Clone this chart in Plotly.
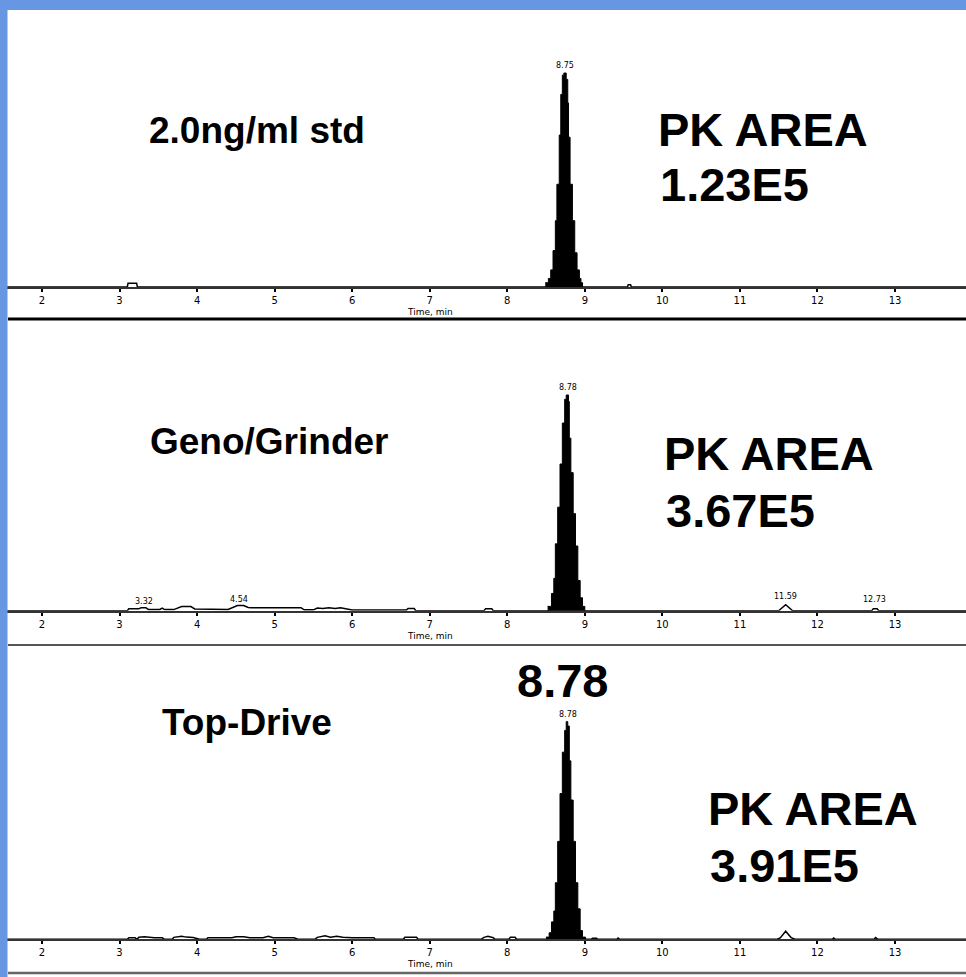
import plotly.graph_objects as go

W, H = 966, 977

# ---------------- data ----------------
tick_vals = [2, 3, 4, 5, 6, 7, 8, 9, 10, 11, 12, 13]
tick_text = [str(v) for v in tick_vals]

# Panel 1 : 2.0 ng/ml standard (relative intensity, %)
std_peak_t = [8.49, 8.53, 8.56, 8.59, 8.62, 8.64, 8.67, 8.69, 8.71, 8.73, 8.76, 8.78, 8.79, 8.81, 8.84, 8.87, 8.90, 8.93, 8.95, 8.97]
std_peak_y = [2, 4, 8, 17, 31, 48, 71, 90, 99, 100, 97, 86, 70, 48, 31, 16, 8, 4, 2, 0]
std_noise_t = [1.46, 3.10, 3.11, 3.22, 3.23, 9.55, 9.56, 9.59, 9.60, 13.92]
std_noise_y = [0, 0, 1.8, 1.8, 0, 0, 1.0, 1.0, 0, 0]

# Panel 2 : Geno/Grinder
geno_peak_t = [8.52, 8.57, 8.60, 8.62, 8.65, 8.68, 8.71, 8.74, 8.76, 8.79, 8.80, 8.82, 8.85, 8.88, 8.91, 8.94, 8.97, 9.00]
geno_peak_y = [2, 8, 15, 31, 48, 68, 87, 98, 100, 97, 80, 64, 45, 30, 14, 6, 2, 0]
geno_noise_t = [1.46, 3.10, 3.12, 3.25, 3.28, 3.34, 3.37, 3.52, 3.55, 3.58, 3.70, 3.76, 3.80, 3.92, 3.97,
                4.40, 4.47, 4.52, 4.60, 4.66, 4.70, 5.34, 5.38, 5.50, 5.55, 5.62, 5.70, 5.78, 5.85, 5.93,
                6.00, 6.70, 6.72, 6.80, 6.82, 7.70, 7.72, 7.80, 7.82, 11.50, 11.59, 11.68, 12.70, 12.72,
                12.77, 12.79, 13.92]
geno_noise_y = [0, 0, 0.9, 0.9, 1.4, 1.4, 0.6, 0.6, 1.2, 0.5, 0.5, 1.2, 1.9, 1.9, 0.8,
                0.6, 1.8, 2.4, 2.4, 1.5, 1.4, 1.4, 0.4, 0.4, 1.2, 1.0, 1.4, 1.0, 1.4, 0.8,
                0.3, 0.3, 1.0, 1.0, 0, 0, 0.9, 0.9, 0, 0, 2.8, 0, 0, 0.9,
                0.9, 0, 0]
geno_minor_t = [3.32, 4.54, 11.59, 12.73]
geno_minor_y = [4.2, 5.4, 6.8, 5.0]
geno_minor_lbl = ["3.32", "4.54", "11.59", "12.73"]

# Panel 3 : Top-Drive
top_peak_t = [8.50, 8.54, 8.57, 8.60, 8.62, 8.65, 8.68, 8.71, 8.74, 8.76, 8.78, 8.80, 8.82, 8.85, 8.88, 8.91, 8.94, 8.97, 9.01]
top_peak_y = [1, 3, 8, 13, 26, 45, 67, 86, 96, 100, 98, 82, 64, 45, 26, 14, 4, 1, 0]
top_noise_t = [1.46, 3.10, 3.12, 3.20, 3.22, 3.25, 3.32, 3.38, 3.45, 3.55, 3.58, 3.68, 3.70, 3.80, 3.86,
               3.95, 4.03, 4.12, 4.14, 4.45, 4.50, 4.60, 4.68, 4.85, 4.92, 4.98, 5.25, 5.30, 5.52, 5.55,
               5.65, 5.72, 5.80, 5.88, 6.00, 6.28, 6.30, 6.66, 6.68, 6.83, 6.85, 7.66, 7.70, 7.75, 7.82,
               7.84, 8.02, 8.04, 8.10, 8.12, 9.08, 9.10, 9.15, 9.17, 9.41, 9.43, 9.45, 11.48, 11.52, 11.59,
               11.66, 11.71, 12.19, 12.21, 12.23, 12.73, 12.75, 12.78, 13.92]
top_noise_y = [0, 0, 0.7, 0.7, 0, 0.9, 1.2, 0.9, 0.7, 0.7, 0, 0, 0.9, 1.4, 1.0,
               0.8, 0, 0, 0.7, 0.7, 1.2, 1.2, 0.7, 0.7, 1.4, 0.7, 0.7, 0, 0, 0.9,
               1.6, 0.9, 1.4, 0.9, 0.7, 0.7, 0, 0, 0.9, 0.9, 0, 0, 0.9, 1.4, 0.7,
               0, 0, 0.9, 0.9, 0, 0, 0.5, 0.5, 0, 0, 0.6, 0, 0, 0.6, 3.7,
               0.8, 0, 0, 0.6, 0, 0, 0.8, 0, 0]

panel_names = ["2.0ng/ml std", "Geno/Grinder", "Top-Drive"]
pk_areas = ["1.23E5", "3.67E5", "3.91E5"]
apex_rt = [8.75, 8.78, 8.78]
apex_lbl = ["8.75", "8.78", "8.78"]
highlight_rt = "8.78"
axis_title = "Time, min"

peaks_t = [std_peak_t, geno_peak_t, top_peak_t]
peaks_y = [std_peak_y, geno_peak_y, top_peak_y]
noise_t = [std_noise_t, geno_noise_t, top_noise_t]
noise_y = [std_noise_y, geno_noise_y, top_noise_y]

# ---------------- layout geometry (pixels) ----------------
def py(p):
    return 1 - p / H

def px(p):
    return p / W

baseline_px = [287, 610.7, 939.3]
top_px = [10, 319, 645]
full_px = [73, 395, 721.7]
sep_px = [319, 645, 973]

ppm = (895 - 42) / 11.0
x_range = [2 - 42 / ppm, 2 + (W - 42) / ppm]

fig = go.Figure()
layout = dict(
    width=W, height=H, autosize=False,
    margin=dict(l=0, r=0, t=0, b=0),
    paper_bgcolor="white", plot_bgcolor="white",
    showlegend=False,
)

for i in range(3):
    xa = "x" if i == 0 else f"x{i+1}"
    ya = "y" if i == 0 else f"y{i+1}"
    fig.add_trace(go.Scatter(x=noise_t[i], y=noise_y[i], mode="lines",
                             line=dict(color="black", width=1.5),
                             xaxis=xa, yaxis=ya, hoverinfo="skip"))
    fig.add_trace(go.Scatter(x=peaks_t[i], y=peaks_y[i], mode="lines",
                             line=dict(color="black", width=1, shape="hv"),
                             fill="tozeroy", fillcolor="black",
                             xaxis=xa, yaxis=ya, hoverinfo="skip"))
    scale = (baseline_px[i] - full_px[i]) / 100.0
    ymax = (baseline_px[i] - top_px[i]) / scale
    kx = "xaxis" if i == 0 else f"xaxis{i+1}"
    ky = "yaxis" if i == 0 else f"yaxis{i+1}"
    layout[kx] = dict(domain=[0, 1], range=x_range, anchor=ya,
                      tickmode="array", tickvals=tick_vals, ticktext=tick_text,
                      ticks="outside", ticklen=3, tickwidth=2, tickcolor="black",
                      showline=True, linecolor="#333333", linewidth=2,
                      showgrid=False, zeroline=False,
                      tickfont=dict(family="DejaVu Sans", size=10, color="black"),
                      fixedrange=True)
    layout[ky] = dict(domain=[py(baseline_px[i]), py(top_px[i])], range=[0, ymax],
                      anchor=xa, visible=False, showgrid=False, zeroline=False,
                      fixedrange=True)

fig.update_layout(**layout)

ann = []
big = dict(family="Liberation Sans, Arial, sans-serif", size=47, color="black", weight="bold")
mid = dict(family="Liberation Sans, Arial, sans-serif", size=37, color="black", weight="bold")
tiny = dict(family="DejaVu Sans", size=8, color="black")

label_pos = [(147, 130), (148, 441), (160, 722)]
pk_pos = [(656, 129, 185), (662, 454, 510), (706, 808, 865)]

for i in range(3):
    xa = "x" if i == 0 else f"x{i+1}"
    ya = "y" if i == 0 else f"y{i+1}"
    ann.append(dict(text=panel_names[i], x=px(label_pos[i][0]), y=py(label_pos[i][1]),
                    xref="paper", yref="paper", xanchor="left", yanchor="middle",
                    showarrow=False, font=mid))
    ann.append(dict(text="PK AREA", x=px(pk_pos[i][0]), y=py(pk_pos[i][1]),
                    xref="paper", yref="paper", xanchor="left", yanchor="middle",
                    showarrow=False, font=big))
    ann.append(dict(text=pk_areas[i], x=px(pk_pos[i][0] + 2), y=py(pk_pos[i][2]),
                    xref="paper", yref="paper", xanchor="left", yanchor="middle",
                    showarrow=False, font=big))
    ann.append(dict(text=apex_lbl[i], x=apex_rt[i], y=100, xref=xa, yref=ya,
                    xanchor="center", yanchor="bottom", yshift=1,
                    showarrow=False, font=tiny))
    ann.append(dict(text=axis_title, x=px(430), y=py(baseline_px[i] + 25),
                    xref="paper", yref="paper", xanchor="center", yanchor="middle",
                    showarrow=False, font=dict(family="DejaVu Sans", size=9, color="black")))

for t, yv, lb in zip(geno_minor_t, geno_minor_y, geno_minor_lbl):
    ann.append(dict(text=lb, x=t, y=yv, xref="x2", yref="y2", xanchor="center",
                    yanchor="middle", showarrow=False, font=tiny))

ann.append(dict(text=highlight_rt, x=px(515), y=py(680), xref="paper", yref="paper",
                xanchor="left", yanchor="middle", showarrow=False, font=big))

fig.update_layout(annotations=ann)

shapes = []
sep_colors = ["black", "#555555", "#666666"]
sep_widths = [3, 2, 2.5]
for i in range(3):
    shapes.append(dict(type="line", xref="paper", yref="paper",
                       x0=px(8), x1=1, y0=py(sep_px[i]), y1=py(sep_px[i]),
                       line=dict(color=sep_colors[i], width=sep_widths[i]), layer="above"))
shapes.append(dict(type="rect", xref="paper", yref="paper", x0=0, x1=px(7.5), y0=0, y1=1,
                   fillcolor="#6796E2", line=dict(width=0), layer="above"))
shapes.append(dict(type="rect", xref="paper", yref="paper", x0=0, x1=1, y0=py(10), y1=1,
                   fillcolor="#6796E2", line=dict(width=0), layer="above"))
fig.update_layout(shapes=shapes)

fig.write_html("out.html", config={"displayModeBar": False})
